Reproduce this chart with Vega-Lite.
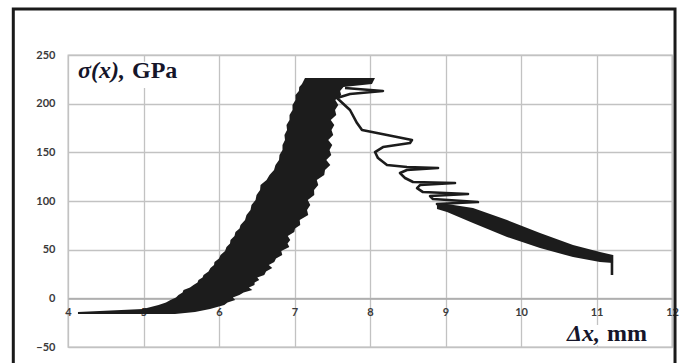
{
  "$schema": "https://vega.github.io/schema/vega-lite/v6.json",
  "width": 604,
  "height": 292,
  "autosize": "none",
  "padding": {"left": 68, "top": 55, "right": 8, "bottom": 16},
  "background": "white",
  "config": {
    "view": {"stroke": "#bdbdbd", "strokeWidth": 1.3},
    "axis": {"gridColor": "#c2c2c2", "gridWidth": 1.3, "ticks": false, "labelFont": "Lato", "labelFontWeight": "bold", "labelColor": "#3a3a3a", "labelFontSize": 11, "title": null}
  },
  "datasets": {
    "frame": [{"x1": 3.2755, "x2": 12.04, "y1": 297.2, "y2": -73.7}],
    "boxes": [
      {"x1": 4.09, "x2": 5.62, "y1": 243, "y2": 216},
      {"x1": 10.55, "x2": 11.74, "y1": -27.4, "y2": -48.5}
    ],
    "band": [
      {"y": -16.13, "xl": 4.132, "xr": 5.417},
      {"y": -14.08, "xl": 4.132, "xr": 5.682},
      {"y": -10.99, "xl": 4.993, "xr": 5.881},
      {"y": -6.88, "xl": 5.199, "xr": 6.070},
      {"y": -4.32, "xl": 5.298, "xr": 6.113},
      {"y": -1.75, "xl": 5.357, "xr": 6.215},
      {"y": 0.82, "xl": 5.430, "xr": 6.183},
      {"y": 3.39, "xl": 5.463, "xr": 6.270},
      {"y": 5.96, "xl": 5.517, "xr": 6.326},
      {"y": 8.53, "xl": 5.530, "xr": 6.441},
      {"y": 11.10, "xl": 5.616, "xr": 6.396},
      {"y": 13.66, "xl": 5.662, "xr": 6.470},
      {"y": 16.23, "xl": 5.715, "xr": 6.472},
      {"y": 18.80, "xl": 5.728, "xr": 6.533},
      {"y": 21.37, "xl": 5.782, "xr": 6.507},
      {"y": 23.94, "xl": 5.795, "xr": 6.600},
      {"y": 27.54, "xl": 5.861, "xr": 6.623},
      {"y": 31.13, "xl": 5.887, "xr": 6.705},
      {"y": 34.21, "xl": 5.934, "xr": 6.659},
      {"y": 37.29, "xl": 5.940, "xr": 6.732},
      {"y": 40.89, "xl": 6.000, "xr": 6.755},
      {"y": 44.49, "xl": 6.020, "xr": 6.838},
      {"y": 48.60, "xl": 6.080, "xr": 6.825},
      {"y": 52.71, "xl": 6.099, "xr": 6.931},
      {"y": 56.31, "xl": 6.146, "xr": 6.908},
      {"y": 59.90, "xl": 6.152, "xr": 6.944},
      {"y": 64.01, "xl": 6.205, "xr": 6.911},
      {"y": 68.12, "xl": 6.218, "xr": 6.997},
      {"y": 71.72, "xl": 6.272, "xr": 7.007},
      {"y": 75.31, "xl": 6.285, "xr": 7.076},
      {"y": 80.45, "xl": 6.345, "xr": 7.069},
      {"y": 85.58, "xl": 6.364, "xr": 7.182},
      {"y": 90.72, "xl": 6.417, "xr": 7.166},
      {"y": 95.86, "xl": 6.430, "xr": 7.209},
      {"y": 101.0, "xl": 6.484, "xr": 7.176},
      {"y": 106.13, "xl": 6.497, "xr": 7.262},
      {"y": 111.27, "xl": 6.544, "xr": 7.259},
      {"y": 116.40, "xl": 6.550, "xr": 7.315},
      {"y": 121.54, "xl": 6.630, "xr": 7.295},
      {"y": 126.68, "xl": 6.669, "xr": 7.394},
      {"y": 131.82, "xl": 6.729, "xr": 7.404},
      {"y": 136.95, "xl": 6.748, "xr": 7.474},
      {"y": 142.09, "xl": 6.795, "xr": 7.421},
      {"y": 147.23, "xl": 6.801, "xr": 7.487},
      {"y": 152.37, "xl": 6.841, "xr": 7.464},
      {"y": 157.50, "xl": 6.841, "xr": 7.500},
      {"y": 162.64, "xl": 6.874, "xr": 7.447},
      {"y": 167.77, "xl": 6.867, "xr": 7.513},
      {"y": 172.91, "xl": 6.901, "xr": 7.490},
      {"y": 178.05, "xl": 6.894, "xr": 7.527},
      {"y": 183.19, "xl": 6.934, "xr": 7.480},
      {"y": 188.32, "xl": 6.934, "xr": 7.553},
      {"y": 193.46, "xl": 6.974, "xr": 7.537},
      {"y": 198.60, "xl": 6.973, "xr": 7.580},
      {"y": 203.74, "xl": 7.013, "xr": 7.540},
      {"y": 208.87, "xl": 7.013, "xr": 7.619},
      {"y": 212.98, "xl": 7.058, "xr": 7.604},
      {"y": 217.09, "xl": 7.063, "xr": 7.649},
      {"y": 220.17, "xl": 7.099, "xr": 8.026},
      {"y": 226.34, "xl": 7.139, "xr": 8.066}
    ],
    "tail": [
      {"x": 8.887, "top": 97.9, "bottom": 91.7},
      {"x": 9.020, "top": 96.9, "bottom": 88.7},
      {"x": 9.364, "top": 92.8, "bottom": 77.4},
      {"x": 9.815, "top": 80.4, "bottom": 63.0},
      {"x": 10.252, "top": 67.1, "bottom": 51.7},
      {"x": 10.689, "top": 54.8, "bottom": 42.4},
      {"x": 11.046, "top": 47.6, "bottom": 37.3},
      {"x": 11.219, "top": 44.5, "bottom": 36.3}
    ],
    "curve": [
      {"seg": "a", "i": 1, "x": 7.669, "y": 216.1},
      {"seg": "a", "i": 2, "x": 8.172, "y": 213.0},
      {"seg": "a", "i": 3, "x": 7.735, "y": 209.9},
      {"seg": "a", "i": 4, "x": 7.563, "y": 205.8},
      {"seg": "a", "i": 5, "x": 7.735, "y": 193.5},
      {"seg": "a", "i": 6, "x": 7.828, "y": 180.1},
      {"seg": "a", "i": 7, "x": 7.894, "y": 172.9},
      {"seg": "a", "i": 8, "x": 8.093, "y": 169.8},
      {"seg": "a", "i": 9, "x": 8.358, "y": 165.7},
      {"seg": "a", "i": 10, "x": 8.556, "y": 162.6},
      {"seg": "a", "i": 11, "x": 8.530, "y": 159.6},
      {"seg": "a", "i": 12, "x": 8.172, "y": 155.4},
      {"seg": "a", "i": 13, "x": 8.066, "y": 150.3},
      {"seg": "a", "i": 14, "x": 8.106, "y": 144.1},
      {"seg": "a", "i": 15, "x": 8.225, "y": 137.0},
      {"seg": "a", "i": 16, "x": 8.490, "y": 134.9},
      {"seg": "a", "i": 17, "x": 8.901, "y": 133.9},
      {"seg": "a", "i": 18, "x": 8.490, "y": 131.8},
      {"seg": "a", "i": 19, "x": 8.397, "y": 128.7},
      {"seg": "a", "i": 20, "x": 8.464, "y": 123.6},
      {"seg": "a", "i": 21, "x": 8.570, "y": 119.5},
      {"seg": "a", "i": 22, "x": 9.126, "y": 118.5},
      {"seg": "a", "i": 23, "x": 8.662, "y": 116.4},
      {"seg": "a", "i": 24, "x": 8.623, "y": 113.3},
      {"seg": "a", "i": 25, "x": 8.702, "y": 109.2},
      {"seg": "a", "i": 26, "x": 9.298, "y": 107.2},
      {"seg": "a", "i": 27, "x": 8.795, "y": 105.1},
      {"seg": "a", "i": 28, "x": 8.834, "y": 102.0},
      {"seg": "a", "i": 29, "x": 9.430, "y": 98.9},
      {"seg": "a", "i": 30, "x": 8.887, "y": 96.9},
      {"seg": "a", "i": 31, "x": 8.950, "y": 93.5},
      {"seg": "b", "i": 1, "x": 11.205, "y": 44.5},
      {"seg": "b", "i": 2, "x": 11.205, "y": 24.0}
    ],
    "labels": [
      {"x": 4.132, "y": 226.3, "t": "σ(x),", "g": "a"},
      {"x": 4.848, "y": 226.3, "t": "GPa", "g": "b"},
      {"x": 10.609, "y": -44.0, "t": "Δx,", "g": "c"},
      {"x": 11.139, "y": -44.0, "t": "mm", "g": "d"}
    ]
  },
  "layer": [
    {
      "data": {"name": "frame"},
      "mark": {"type": "rect", "fill": null, "fillOpacity": 0, "stroke": "#1a1a1a", "strokeWidth": 3},
      "encoding": {
        "x": {"field": "x1", "type": "quantitative", "scale": {"domain": [4, 12], "nice": false, "zero": false}, "axis": {"values": [4, 5, 6, 7, 8, 9, 10, 11, 12], "format": "d", "offset": -48.6, "domain": true, "domainColor": "#a8a8a8", "domainWidth": 1.5, "labelPadding": 8, "labelFlush": false, "labelOverlap": false}},
        "x2": {"field": "x2"},
        "y": {"field": "y1", "type": "quantitative", "scale": {"domain": [-50, 250], "nice": false, "zero": false}, "axis": {"values": [-50, 0, 50, 100, 150, 200, 250], "domain": false, "labelPadding": 13}},
        "y2": {"field": "y2"}
      }
    },
    {
      "data": {"name": "boxes"},
      "mark": {"type": "rect", "fill": "white", "stroke": null},
      "encoding": {
        "x": {"field": "x1", "type": "quantitative"},
        "x2": {"field": "x2"},
        "y": {"field": "y1", "type": "quantitative"},
        "y2": {"field": "y2"}
      }
    },
    {
      "data": {"name": "band"},
      "mark": {"type": "area", "orient": "horizontal", "color": "#1c1c1c"},
      "encoding": {
        "y": {"field": "y", "type": "quantitative"},
        "x": {"field": "xl", "type": "quantitative"},
        "x2": {"field": "xr"}
      }
    },
    {
      "data": {"name": "tail"},
      "mark": {"type": "area", "orient": "vertical", "color": "#1c1c1c"},
      "encoding": {
        "x": {"field": "x", "type": "quantitative"},
        "y": {"field": "top", "type": "quantitative"},
        "y2": {"field": "bottom"}
      }
    },
    {
      "data": {"name": "curve"},
      "mark": {"type": "line", "color": "#1c1c1c", "strokeWidth": 2.6, "strokeJoin": "round"},
      "encoding": {
        "x": {"field": "x", "type": "quantitative"},
        "y": {"field": "y", "type": "quantitative"},
        "detail": {"field": "seg"},
        "order": {"field": "i", "type": "quantitative"}
      }
    },
    {
      "data": {"name": "labels"},
      "transform": [{"filter": "datum.g == 'a' || datum.g == 'c'"}],
      "mark": {"type": "text", "align": "left", "baseline": "alphabetic", "font": "Liberation Serif", "fontStyle": "italic", "fontWeight": "bold", "fontSize": 24, "color": "#15152a"},
      "encoding": {
        "x": {"field": "x", "type": "quantitative"},
        "y": {"field": "y", "type": "quantitative"},
        "text": {"field": "t"}
      }
    },
    {
      "data": {"name": "labels"},
      "transform": [{"filter": "datum.g == 'b' || datum.g == 'd'"}],
      "mark": {"type": "text", "align": "left", "baseline": "alphabetic", "font": "Liberation Serif", "fontWeight": "bold", "fontSize": 24, "color": "#15152a"},
      "encoding": {
        "x": {"field": "x", "type": "quantitative"},
        "y": {"field": "y", "type": "quantitative"},
        "text": {"field": "t"}
      }
    }
  ]
}
